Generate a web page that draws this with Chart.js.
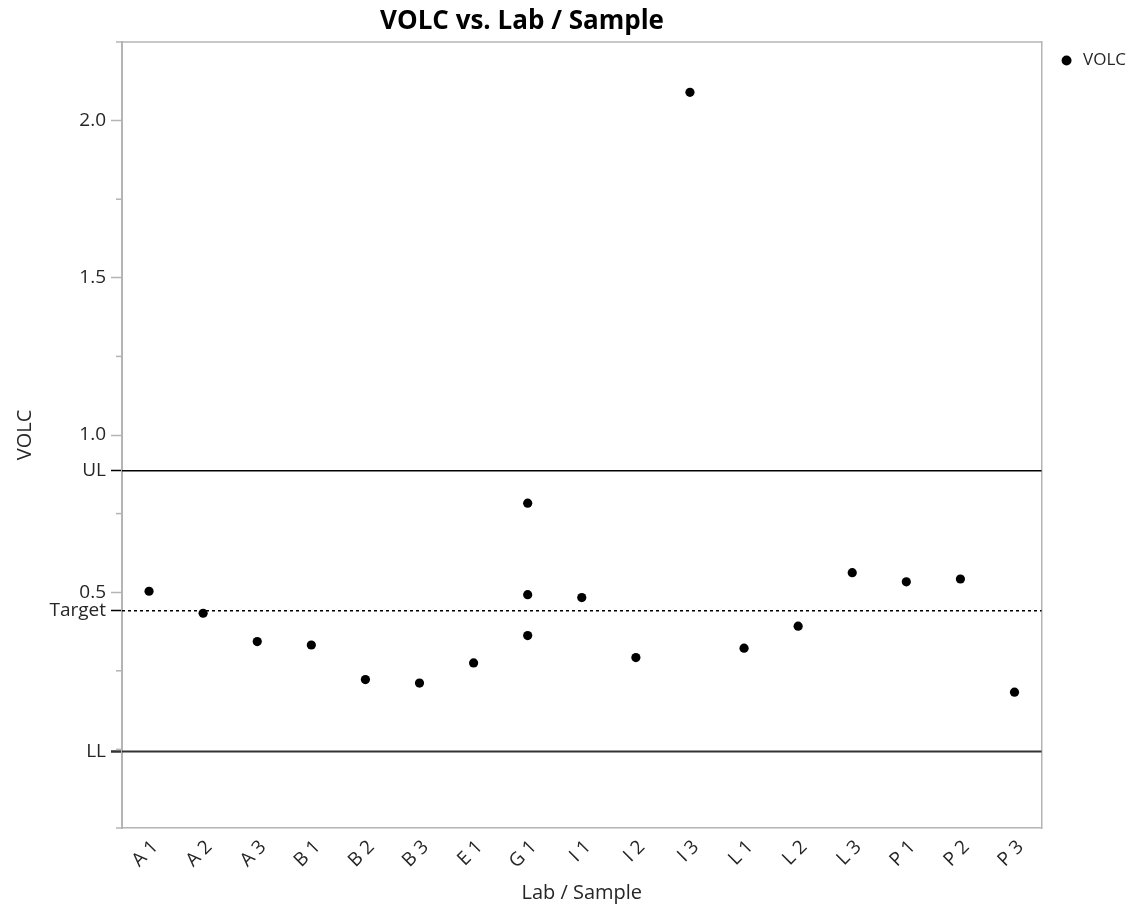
<!DOCTYPE html>
<html>
<head>
<meta charset="utf-8">
<title>VOLC vs. Lab / Sample</title>
<script src="https://cdn.jsdelivr.net/npm/chart.js@4.4.1/dist/chart.umd.min.js"></script>
<style>
  html, body { margin: 0; padding: 0; background: #fff; }
  #wrap { width: 1142px; height: 906px; }
</style>
</head>
<body>
<div id="wrap"><canvas id="volcChart"></canvas></div>
<script>
const labSamples = ['A 1', 'A 2', 'A 3', 'B 1', 'B 2', 'B 3', 'E 1', 'G 1', 'I 1', 'I 2', 'I 3', 'L 1', 'L 2', 'L 3', 'P 1', 'P 2', 'P 3'];

// one entry per measurement, G 1 has three results
const pointSamples = ['A 1', 'A 2', 'A 3', 'B 1', 'B 2', 'B 3', 'E 1', 'G 1', 'G 1', 'G 1', 'I 1', 'I 2', 'I 3', 'L 1', 'L 2', 'L 3', 'P 1', 'P 2', 'P 3'];
const volcValues = [0.503, 0.433, 0.343, 0.332, 0.222, 0.211, 0.275, 0.783, 0.492, 0.362, 0.483, 0.292, 2.090, 0.322, 0.392, 0.562, 0.533, 0.542, 0.182];

const limitNames = ['UL', 'Target', 'LL'];
const limitValues = [0.886, 0.441, -0.007];

const labelledTicks = [0.5, 1.0, 1.5, 2.0];

const FRAME = '#b4b4b4';
const TEXT = '#262626';
Chart.defaults.font.family = '"Open Sans", "Noto Sans", sans-serif';

function limitIndex(value) {
  return limitValues.findIndex(v => Math.abs(v - value) < 1e-9);
}

// limit lines, frame, short minor ticks and the title
const decorations = {
  id: 'decorations',
  beforeDatasetsDraw(chart) {
    const { ctx, chartArea, scales } = chart;
    const y = scales.y;
    ctx.save();
    limitValues.forEach((v, i) => {
      const py = y.getPixelForValue(v);
      ctx.beginPath();
      ctx.strokeStyle = i === 2 ? '#333' : '#000';
      ctx.lineWidth = i === 2 ? 2 : 1.5;
      ctx.setLineDash(i === 1 ? [3, 3] : []);
      ctx.moveTo(chartArea.left, py);
      ctx.lineTo(chartArea.right, py);
      ctx.stroke();
    });
    ctx.restore();
  },
  afterDraw(chart) {
    const { ctx, chartArea, scales } = chart;
    const y = scales.y;
    ctx.save();
    ctx.strokeStyle = FRAME;
    ctx.lineWidth = 1.5;
    ctx.beginPath();
    ctx.moveTo(chartArea.left, chartArea.top);
    ctx.lineTo(chartArea.right, chartArea.top);
    ctx.stroke();
    y.ticks.forEach(t => {
      if (t.label !== '') return;
      const py = y.getPixelForValue(t.value);
      ctx.beginPath();
      ctx.moveTo(chartArea.left - 6, py);
      ctx.lineTo(chartArea.left, py);
      ctx.stroke();
    });
    ctx.fillStyle = '#000';
    ctx.font = 'bold 26px "Open Sans", "Noto Sans", sans-serif';
    ctx.textAlign = 'center';
    ctx.textBaseline = 'middle';
    ctx.fillText('VOLC vs. Lab / Sample', 522, 22);
    ctx.restore();
  }
};

const ctx = document.getElementById('volcChart').getContext('2d');
const chart = new Chart(ctx, {
  type: 'line',
  data: {
    labels: labSamples,
    datasets: [{
      label: 'VOLC',
      data: pointSamples.map((s, i) => ({ x: s, y: volcValues[i] })),
      showLine: false,
      backgroundColor: '#000',
      borderColor: '#000',
      borderWidth: 0,
      pointRadius: 4.6,
      pointHoverRadius: 4.6,
      pointBackgroundColor: '#000',
      pointBorderWidth: 0
    }]
  },
  options: {
    responsive: true,
    maintainAspectRatio: false,
    devicePixelRatio: 1,
    animation: false,
    events: [],
    layout: { padding: { top: 42, right: 6, bottom: 0, left: 0 } },
    plugins: {
      title: { display: false },
      tooltip: { enabled: false },
      legend: {
        position: 'right',
        align: 'start',
        labels: {
          usePointStyle: true,
          pointStyle: 'circle',
          boxWidth: 16,
          boxHeight: 7,
          padding: 10,
          color: TEXT,
          font: { size: 17 }
        }
      }
    },
    scales: {
      x: {
        type: 'category',
        offset: true,
        grid: { display: false },
        border: { color: FRAME, width: 1.5 },
        ticks: { maxRotation: 45, minRotation: 45, color: TEXT, font: { size: 19 }, padding: 0, labelOffset: 6 },
        title: { display: true, text: 'Lab / Sample', color: TEXT, font: { size: 20 }, padding: { top: 0, bottom: 1 } },
        afterFit(scale) { scale.height = 78; }
      },
      y: {
        min: -0.25,
        max: 2.25,
        afterBuildTicks(scale) {
          const ticks = scale.ticks.slice();
          limitValues.forEach(v => ticks.push({ value: v }));
          ticks.sort((a, b) => a.value - b.value);
          scale.ticks = ticks;
        },
        ticks: {
          stepSize: 0.25,
          autoSkip: false,
          color: TEXT,
          font: { size: 19 },
          padding: 5,
          callback(value) {
            const li = limitIndex(value);
            if (li >= 0) return limitNames[li];
            const t = labelledTicks.find(v => Math.abs(v - value) < 1e-6);
            return t !== undefined ? t.toFixed(1) : '';
          }
        },
        grid: {
          drawOnChartArea: false,
          tickLength: 11,
          tickColor(c) {
            if (!c.tick) return FRAME;
            const li = limitIndex(c.tick.value);
            if (li >= 0) return li === 2 ? '#333' : '#000';
            return c.tick.label === '' ? 'rgba(0,0,0,0)' : FRAME;
          },
          tickWidth(c) {
            return c.tick && limitIndex(c.tick.value) === 2 ? 2.5 : 1.5;
          }
        },
        border: { color: FRAME, width: 2 },
        title: { display: true, text: 'VOLC', color: TEXT, font: { size: 20 }, padding: { top: 13, bottom: 0 } },
        afterFit(scale) { scale.width = 122; }
      },
      yRight: {
        position: 'right',
        display: true,
        grid: { display: false },
        ticks: { display: false },
        border: { color: FRAME, width: 1.5 },
        afterFit(scale) { scale.width = 7; }
      }
    }
  },
  plugins: [decorations]
});
</script>
</body>
</html>
